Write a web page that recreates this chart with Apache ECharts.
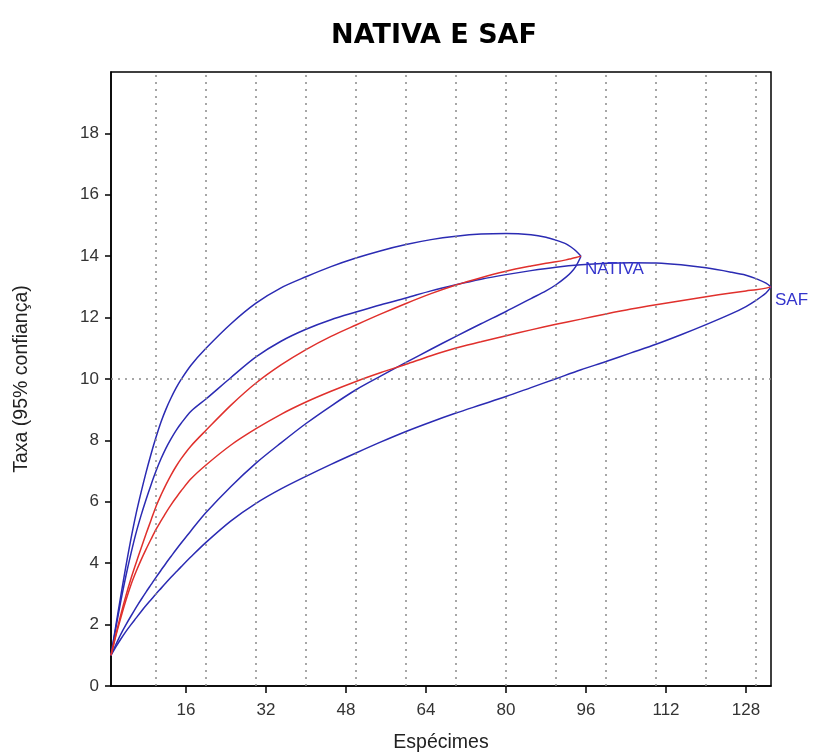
<!DOCTYPE html>
<html>
<head>
<meta charset="utf-8">
<script src="https://cdn.jsdelivr.net/npm/echarts@6/dist/echarts.min.js"></script>
<style>
html,body{margin:0;padding:0;background:#fff;}
#chart{width:814px;height:753px;}
</style>
</head>
<body>
<div id="chart"></div>
<script>
// ---- data ----
const xTicks = [16, 32, 48, 64, 80, 96, 112, 128];
const yTicks = [0, 2, 4, 6, 8, 10, 12, 14, 16, 18];
const xGridLines = [10, 20, 30, 40, 50, 60, 70, 80, 90, 100, 110, 120, 130];
const yGridLines = [10];

const nativaX = [1,2,3,4,5,6,7,8,9,10,11,12,13,14,15,17,20,25,30,35,40,45,50,55,60,65,70,75,80,85,88,90,92,93,94,95];
const nativaMean = [1,1.7,2.35,2.95,3.5,4.0,4.48,4.95,5.4,5.85,6.22,6.56,6.87,7.15,7.4,7.82,8.33,9.15,9.87,10.46,10.96,11.39,11.76,12.12,12.46,12.78,13.06,13.3,13.51,13.68,13.77,13.82,13.88,13.92,13.96,14.0];
const nativaUpper = [1,2.0,2.98,3.92,4.8,5.6,6.3,6.95,7.55,8.1,8.6,9.02,9.38,9.7,9.98,10.45,11.0,11.8,12.47,12.97,13.33,13.66,13.94,14.18,14.38,14.54,14.65,14.72,14.74,14.7,14.62,14.52,14.4,14.3,14.17,14.0];
const nativaLower = [1,1.36,1.7,2.0,2.28,2.55,2.81,3.06,3.3,3.54,3.77,4.0,4.22,4.44,4.65,5.06,5.65,6.5,7.26,7.92,8.55,9.12,9.65,10.1,10.54,10.97,11.39,11.8,12.2,12.62,12.87,13.07,13.32,13.47,13.68,14.0];

const safX = [1,2,3,4,5,6,7,8,9,10,11,12,13,14,15,17,20,25,30,35,40,45,50,55,60,65,70,75,80,85,90,95,100,105,110,115,120,125,128,130,132,133];
const safMean = [1,1.65,2.25,2.8,3.3,3.72,4.1,4.45,4.78,5.1,5.38,5.65,5.9,6.13,6.35,6.75,7.2,7.85,8.38,8.85,9.25,9.6,9.92,10.21,10.48,10.76,11.01,11.21,11.41,11.6,11.78,11.95,12.12,12.28,12.42,12.55,12.68,12.8,12.87,12.91,12.96,13.0];
const safUpper = [1,1.92,2.8,3.6,4.32,4.98,5.55,6.07,6.55,7.0,7.4,7.75,8.05,8.32,8.55,8.95,9.35,10.05,10.72,11.23,11.62,11.93,12.18,12.42,12.64,12.87,13.07,13.25,13.4,13.53,13.64,13.72,13.77,13.79,13.78,13.72,13.62,13.48,13.38,13.27,13.12,13.0];
const safLower = [1,1.28,1.54,1.78,2.0,2.21,2.42,2.62,2.81,3.0,3.18,3.36,3.54,3.71,3.88,4.21,4.68,5.38,5.95,6.42,6.83,7.22,7.59,7.95,8.29,8.6,8.89,9.16,9.43,9.72,10.01,10.3,10.57,10.85,11.13,11.44,11.77,12.12,12.36,12.56,12.8,13.0];

// ---- chart ----
const BLUE = '#2b2bb3';
const RED = '#e0302c';
const FONT = '"Liberation Sans", Arial, sans-serif';
const zip = (xs, ys) => xs.map((x, i) => [x, ys[i]]);

function line(name, xs, ys, color, z, endName) {
  const s = {
    type: 'line', name: name, data: zip(xs, ys), showSymbol: false, symbol: 'none',
    smooth: 0.3, z: z, silent: true,
    lineStyle: { color: color, width: 1.5 }
  };
  if (endName) {
    s.endLabel = {
      show: true, formatter: endName, color: '#3535cc', fontSize: 17,
      fontFamily: FONT, offset: [0, 13], distance: 4
    };
  }
  return s;
}

const chart = echarts.init(document.getElementById('chart'), null, { renderer: 'canvas' });
const option = {
  animation: false,
  backgroundColor: '#fff',
  title: {
    text: 'NATIVA E SAF', left: 429, textAlign: 'center', top: 17,
    textStyle: { fontFamily: '"DejaVu Sans", sans-serif', fontWeight: 'bold', fontSize: 27, color: '#000' }
  },
  grid: { left: 111, right: 43, top: 72, bottom: 67, outerBoundsMode: 'none', containLabel: false, show: true, borderColor: '#000', borderWidth: 1.5, backgroundColor: '#fff' },
  xAxis: {
    type: 'value', min: 1, max: 133,
    name: 'Espécimes', nameLocation: 'middle', nameGap: 47,
    nameTextStyle: { fontFamily: FONT, fontSize: 19.5, color: '#222' },
    axisLine: { show: true, lineStyle: { color: '#000', width: 1.5 } },
    axisTick: { show: true, length: 7, customValues: xTicks, lineStyle: { color: '#000', width: 1.5 } },
    axisLabel: { customValues: xTicks, fontFamily: FONT, fontSize: 17, color: '#333', margin: 16 },
    splitLine: { show: false }
  },
  yAxis: {
    type: 'value', min: 0, max: 20, interval: 2,
    name: 'Taxa (95% confiança)', nameLocation: 'middle', nameGap: 79, nameRotate: 90,
    nameTextStyle: { fontFamily: FONT, fontSize: 19.5, color: '#222' },
    axisLine: { show: true, lineStyle: { color: '#000', width: 1.5 } },
    axisTick: { show: true, length: 6, customValues: yTicks, lineStyle: { color: '#000', width: 1.5 } },
    axisLabel: { customValues: yTicks, fontFamily: FONT, fontSize: 17, color: '#333', margin: 12 },
    splitLine: { show: false }
  },
  series: [
    {
      type: 'line', data: [], silent: true, z: 1,
      markLine: {
        silent: true, symbol: 'none', label: { show: false },
        lineStyle: { color: '#8a8a8a', type: [2, 5], width: 1.5 },
        data: xGridLines.map(v => ({ xAxis: v })).concat(yGridLines.map(v => ({ yAxis: v })))
      }
    },
    line('SAF lower', safX, safLower, BLUE, 3),
    line('SAF upper', safX, safUpper, BLUE, 3, 'SAF'),
    line('SAF', safX, safMean, RED, 4),
    line('NATIVA lower', nativaX, nativaLower, BLUE, 3),
    line('NATIVA upper', nativaX, nativaUpper, BLUE, 3, 'NATIVA'),
    line('NATIVA', nativaX, nativaMean, RED, 4)
  ]
};
chart.setOption(option);
</script>
</body>
</html>
